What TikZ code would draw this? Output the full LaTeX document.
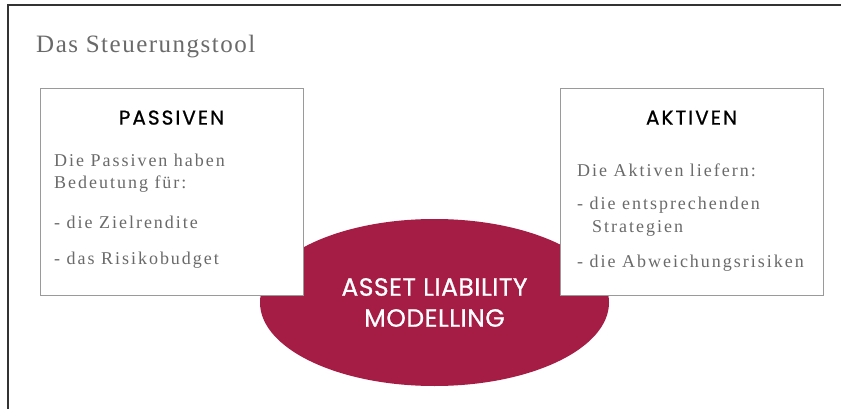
\documentclass[tikz,border=0pt]{standalone}
\usepackage{fontspec}
\setmainfont{Liberation Serif}
\newfontfamily\headfont[FakeBold=0.8]{Poppins}
\usetikzlibrary{shapes.geometric,positioning}
\definecolor{almred}{HTML}{A51D45}
\definecolor{txtgray}{HTML}{6A6A6A}
\definecolor{boxgray}{HTML}{9A9A9A}

\begin{document}
\begin{tikzpicture}[
  x=1pt, y=-1pt,
  box/.style={rectangle, draw=boxgray, fill=white, line width=0.8pt,
    minimum width=263pt, minimum height=207pt, inner sep=0pt},
  head/.style={font=\headfont\fontsize{20}{22}\selectfont\addfontfeature{LetterSpace=10},
    text=black, inner sep=0pt, anchor=base},
  body/.style={font=\fontsize{18}{22}\selectfont\addfontfeature{LetterSpace=11},
    text=txtgray, inner sep=0pt, anchor=base west},
  alm/.style={ellipse, fill=almred, minimum width=349pt, minimum height=167pt,
    text=white, align=center, font=\headfont\fontsize{25}{31}\selectfont\addfontfeature{LetterSpace=2}}
]
\useasboundingbox (0,0) rectangle (841,409);

% frame and title
\draw[line width=1.4pt, black!80] (8,409) -- (8,5) -- (841,5);
\node[font=\fontsize{25}{28}\selectfont\addfontfeature{LetterSpace=6}, text=txtgray,
  inner sep=0pt, anchor=base west] (title) at (36,53) {Das Steuerungstool};

% centre
\node[alm] (model) at (434.5,302.5) {ASSET LIABILITY\\MODELLING};

% the two sides
\node[box] (passiv) at (171.5,191.5) {};
\node[box] (aktiv) at (691.5,191.5) {};
\node[head] (phead) at ([yshift=-37pt]passiv.north) {PASSIVEN};
\node[head] (ahead) at ([yshift=-37pt]aktiv.north) {AKTIVEN};

\foreach \y/\t [count=\i] in {167/Die Passiven haben, 189/Bedeutung für:,
    228/- die Zielrendite, 264/- das Risikobudget}
  \node[body] (p\i) at (54,\y) {\t};

\foreach \x/\y/\t [count=\i] in {577/177/Die Aktiven liefern:, 577/209/- die entsprechenden,
    592/232/Strategien, 577/267/- die Abweichungsrisiken}
  \node[body] (a\i) at (\x,\y) {\t};
\end{tikzpicture}
\end{document}
